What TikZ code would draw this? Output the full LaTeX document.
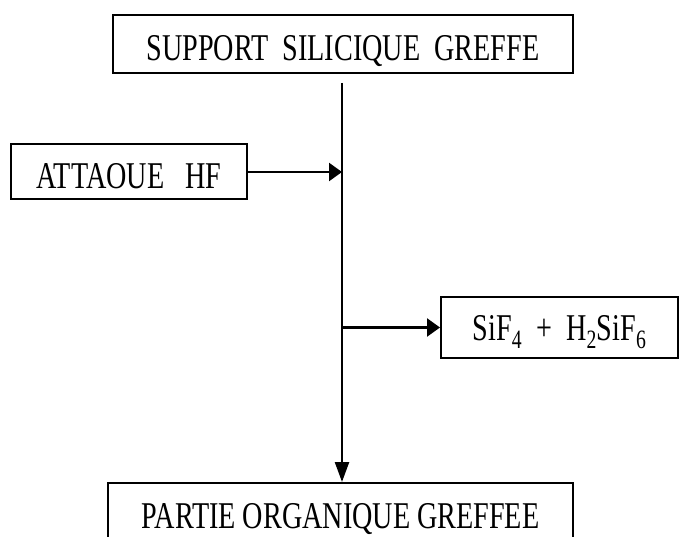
\documentclass[tikz,border=0pt]{standalone}
\usepackage{fontspec}
\setmainfont{Liberation Serif}[FakeStretch=0.745]
\usetikzlibrary{arrows.meta}
\tikzset{
    stage box/.style={
        draw, line width=2pt, inner sep=0pt,
        minimum height=58pt, text height=33pt, text depth=0pt,
        font=\fontsize{37.8}{40}\selectfont
    },
    side arrow/.style={line width=2.4pt, -{Triangle[length=13pt, width=18pt]}},
    down arrow/.style={line width=2.4pt, -{Triangle[length=20pt, width=14pt]}}
}

\begin{document}
\begin{tikzpicture}[x=1pt, y=-1pt]

\useasboundingbox (0,0) rectangle (680,537);

\node[stage box, minimum width=460pt] (support) at (343,44) {SUPPORT~~SILICIQUE~~GREFFE};
\node[stage box, minimum width=236pt, minimum height=55pt] (attaque) at (129,172) {ATTAOUE~~~HF};
\node[stage box, minimum width=237pt, minimum height=61pt, text height=25pt] (produits) at (559.5,327.5)
    {SiF\textsubscript{4}~~+~~H\textsubscript{2}SiF\textsubscript{6}};
\node[stage box, minimum width=465pt, minimum height=57pt] (organique) at (340.5,511.5) {PARTIE ORGANIQUE GREFFEE};

% main line starts a little below the top box
\coordinate (start) at (342,83);

\draw[down arrow] (start) -- (start |- organique.north);
\draw[side arrow] (attaque) -- (attaque -| start);
\draw[side arrow] (produits -| start) -- (produits.west);

\end{tikzpicture}
\end{document}
